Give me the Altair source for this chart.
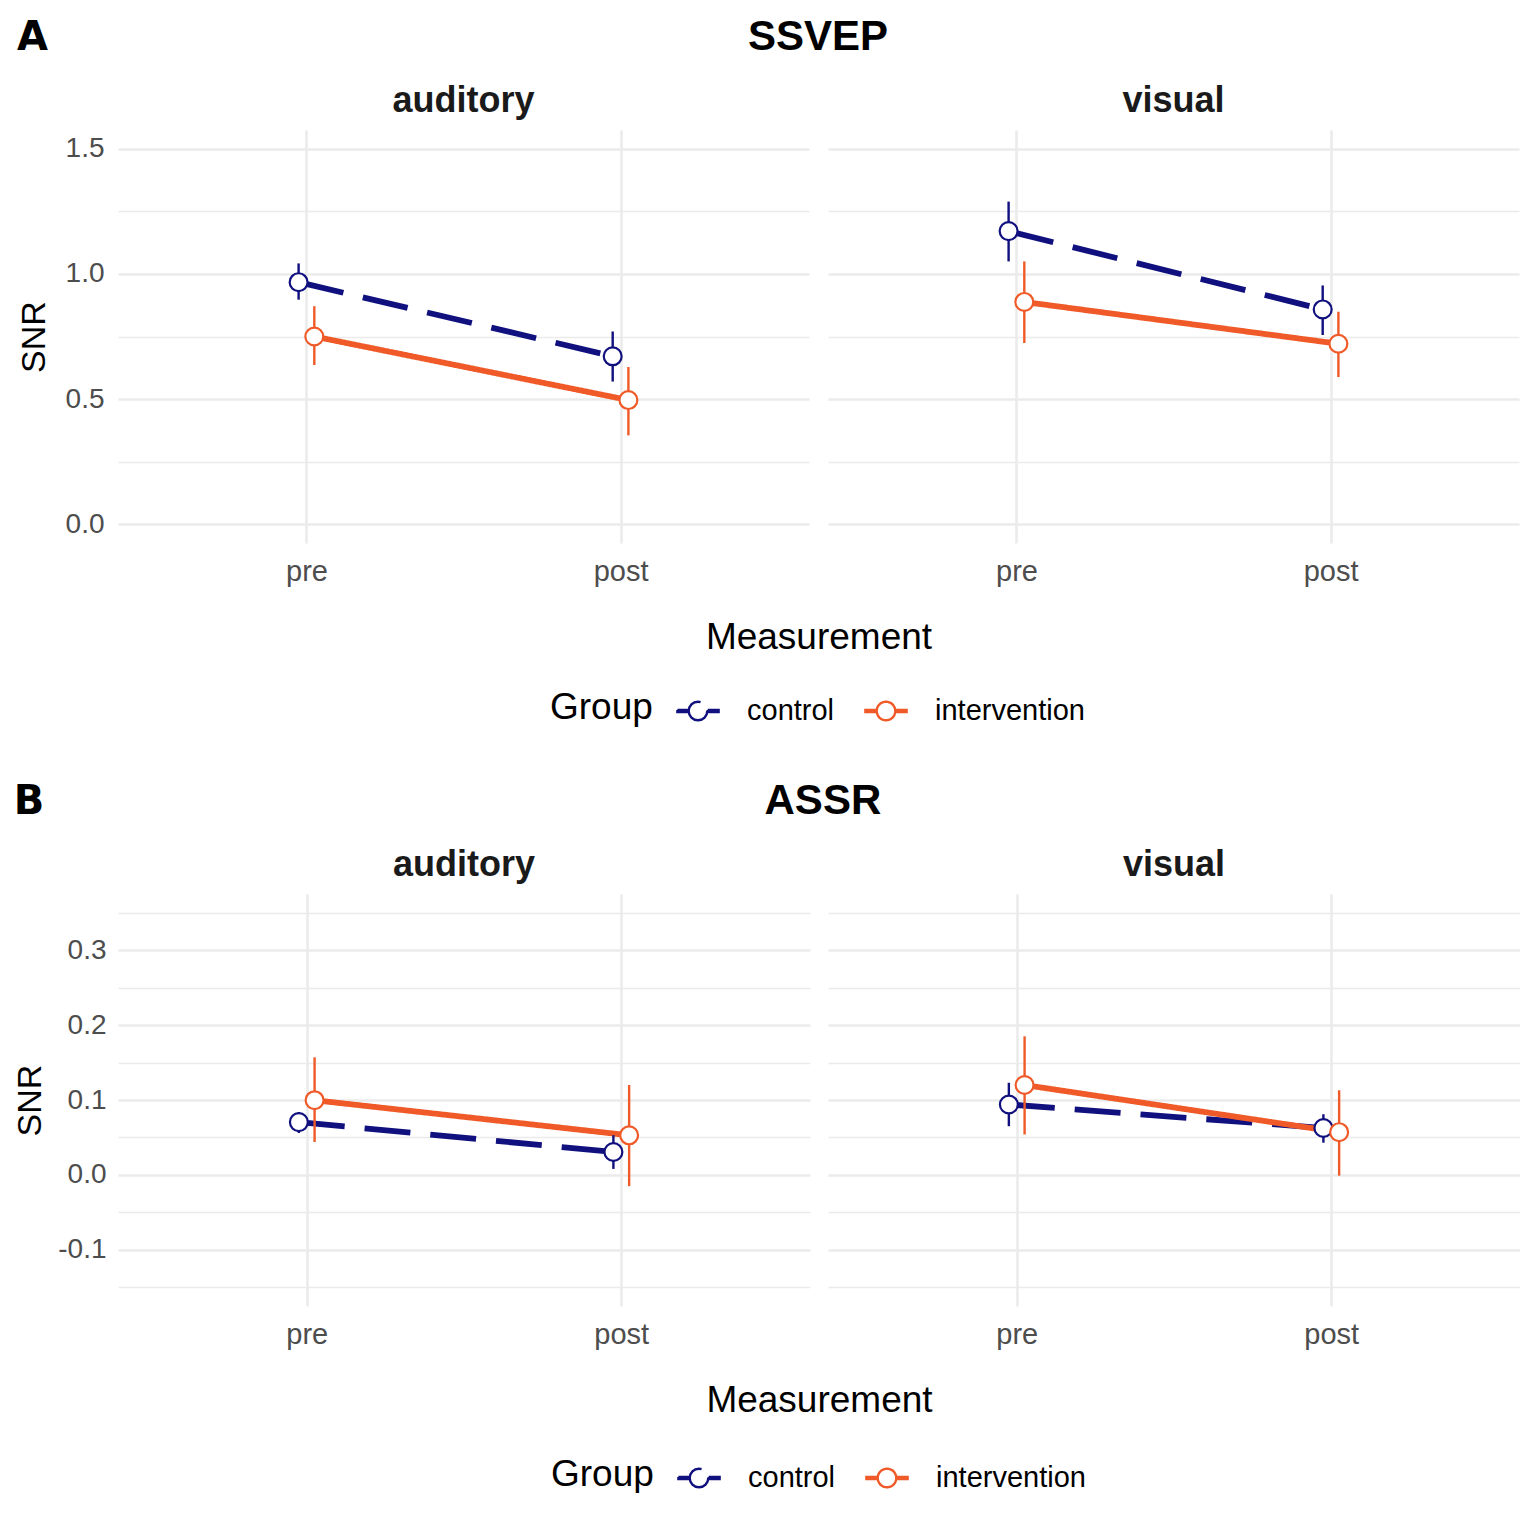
import json
import altair as alt
import pandas as pd

# ---------------- data ----------------
modalities = ["auditory", "visual"]
measurements = ["pre", "post"]
groups = ["control", "intervention"]
group_colors = ["#10107e", "#f05a28"]

section_titles = ["SSVEP", "ASSR"]
section_letters = ["A", "B"]

# order of values: auditory-pre, auditory-post, visual-pre, visual-post
ssvep_control_mean = [0.967, 0.671, 1.171, 0.858]
ssvep_control_lo = [0.897, 0.570, 1.050, 0.756]
ssvep_control_hi = [1.042, 0.770, 1.289, 0.954]
ssvep_interv_mean = [0.750, 0.496, 0.888, 0.721]
ssvep_interv_lo = [0.636, 0.355, 0.724, 0.588]
ssvep_interv_hi = [0.871, 0.628, 1.050, 0.849]

assr_control_mean = [0.0705, 0.0306, 0.094, 0.0626]
assr_control_lo = [0.056, 0.008, 0.065, 0.043]
assr_control_hi = [0.084, 0.053, 0.123, 0.081]
assr_interv_mean = [0.0997, 0.0529, 0.120, 0.057]
assr_interv_lo = [0.044, -0.015, 0.054, -0.001]
assr_interv_hi = [0.157, 0.120, 0.185, 0.113]

ssvep_major = [0.0, 0.5, 1.0, 1.5]
ssvep_minor = [0.25, 0.75, 1.25]
assr_major = [-0.1, 0.0, 0.1, 0.2, 0.3]
assr_minor = [-0.15, -0.05, 0.05, 0.15, 0.25, 0.35]
ssvep_domain = [-0.075, 1.575]
assr_domain = [-0.175, 0.375]

dodge = [-0.025, 0.025]

GRID = "#ebebeb"
FONT = "Liberation Sans"


def make_df(means, los, his):
    rows = []
    cells = [(m, s) for m in modalities for s in measurements]
    for gi, g in enumerate(groups):
        for k, (mod, meas) in enumerate(cells):
            rows.append(dict(modality=mod, measurement=meas, group=g,
                             pos=measurements.index(meas) + 1 + dodge[gi],
                             mean=means[gi][k], lo=los[gi][k], hi=his[gi][k]))
    return pd.DataFrame(rows)


df_ssvep = make_df([ssvep_control_mean, ssvep_interv_mean],
                   [ssvep_control_lo, ssvep_interv_lo],
                   [ssvep_control_hi, ssvep_interv_hi])
df_assr = make_df([assr_control_mean, assr_interv_mean],
                  [assr_control_lo, assr_interv_lo],
                  [assr_control_hi, assr_interv_hi])

# legend glyph: thick line segment with an open circle in the middle
LEGEND_PATH = ("M-1,-0.05 L-0.47,-0.05 L-0.47,0.05 L-1,0.05 Z "
               "M0.47,-0.05 L1,-0.05 L1,0.05 L0.47,0.05 Z "
               "M0.45,0 A0.45,0.45 0 1,1 -0.45,0 A0.45,0.45 0 1,1 0.45,0 Z")


def make_legend(lx, ly):
    return alt.Legend(
        orient="none", legendX=lx, legendY=ly, direction="horizontal",
        title="Group", titleOrient="left", titleFontSize=37, titleFontWeight="normal",
        titleColor="black", titlePadding=23, titleBaseline="middle",
        labelFontSize=29, labelColor="black", labelOffset=27,
        symbolType=LEGEND_PATH, symbolSize=1700, symbolStrokeWidth=2.4,
        symbolFillColor="white", columnPadding=25, symbolOpacity=1,
    )


def panel(df, modality, domain, major, minor, w, h, spacing, first, legend, lpad, tpad):
    ticks = sorted(major + minor)
    major_js = json.dumps(major)
    yscale = alt.Scale(domain=domain, nice=False, zero=False)
    yaxis_kw = dict(
        values=ticks, grid=True, gridColor=GRID,
        gridWidth={"condition": {"test": f"indexof({major_js}, datum.value) >= 0", "value": 2.6},
                   "value": 1.3},
        ticks=False, domain=False, labels=first,
        labelExpr=f"indexof({major_js}, datum.value) >= 0 ? replace(format(datum.value, '.1f'), '\u2212', '-') : ''",
        labelFontSize=28, labelColor="#4d4d4d", labelPadding=lpad,
        title="SNR" if first else None, titleFontSize=34, titlePadding=tpad,
        titleFontWeight="normal", titleColor="black",
    )
    yaxis = alt.Axis(**yaxis_kw)

    xvals = list(range(1, len(measurements) + 1))
    xscale = alt.Scale(domain=[0.4, len(measurements) + 0.6], nice=False, zero=False)
    xaxis_kw = dict(
        values=xvals, labelExpr=f"{json.dumps(measurements)}[datum.value - 1]",
        grid=True, gridColor=GRID, gridWidth=2.6, ticks=False, domain=False,
        labelFontSize=29, labelColor="#4d4d4d", labelPadding=14,
        title="Measurement" if first else None, titleFontSize=37,
        titleFontWeight="normal", titleColor="black", titlePadding=33,
    )
    if first:
        xaxis_kw.update(titleX=(2 * w + spacing) / 2, titleAlign="center")
    xaxis = alt.Axis(**xaxis_kw)

    base = alt.Chart(df).transform_filter(alt.datum.modality == modality)
    x = alt.X("pos:Q", scale=xscale, axis=xaxis)
    color = alt.Color("group:N", scale=alt.Scale(domain=groups, range=group_colors), legend=legend)

    line = base.mark_line(strokeWidth=5.8, strokeCap="butt").encode(
        x=x, y=alt.Y("mean:Q", scale=yscale, axis=yaxis), color=color,
        strokeDash=alt.StrokeDash("group:N", scale=alt.Scale(domain=groups, range=[[46, 20], [1, 0]]),
                                  legend=None),
    )
    err = base.mark_rule(strokeWidth=2.4).encode(
        x=x, y=alt.Y("lo:Q", scale=yscale, axis=yaxis), y2="hi:Q", color=color,
    )
    pts = base.mark_point(filled=False, fill="white", size=320, strokeWidth=2.2, opacity=1).encode(
        x=x, y=alt.Y("mean:Q", scale=yscale, axis=yaxis), color=color,
    )
    return alt.layer(line, err, pts).properties(
        width=w, height=h,
        title=alt.TitleParams(modality, fontSize=36, fontWeight="bold", anchor="middle",
                              frame="group", offset=10, color="#1a1a1a"),
    )


def section(df, title, letter, domain, major, minor, w, h, spacing, dx, lx, ly, lpad, tpad):
    leg = make_legend(lx, ly)
    p1 = panel(df, modalities[0], domain, major, minor, w, h, spacing, True, leg, lpad, tpad)
    p2 = panel(df, modalities[1], domain, major, minor, w, h, spacing, False, leg, lpad, tpad)
    row = alt.hconcat(
        p1, p2, spacing=spacing, bounds="flush",
        title=alt.TitleParams(title, fontSize=42, fontWeight="bold", anchor="middle",
                              dx=dx, offset=24, color="black"),
    ).resolve_scale(x="independent", y="independent")
    return alt.vconcat(
        row,
        title=alt.TitleParams(letter, fontSize=40, font="DejaVu Sans", fontWeight="bold",
                              anchor="start", dy=42, offset=0, color="black"),
    )


secA = section(df_ssvep, section_titles[0], section_letters[0], ssvep_domain,
               ssvep_major, ssvep_minor, 691, 413, 19, 50, 432, 559, 14, 14)
secB = section(df_assr, section_titles[1], section_letters[1], assr_domain,
               assr_major, assr_minor, 692, 412, 18, 56, 433, 562, 12, 10)

chart = (
    alt.vconcat(secA, secB, spacing=54)
    .resolve_scale(color="independent", strokeDash="independent")
    .properties(padding={"left": 5, "top": 8, "right": 0, "bottom": 0})
    .configure(font=FONT)
    .configure_view(stroke=None)
)

chart.save("out.html", embed_options={"renderer": "svg", "actions": False})
